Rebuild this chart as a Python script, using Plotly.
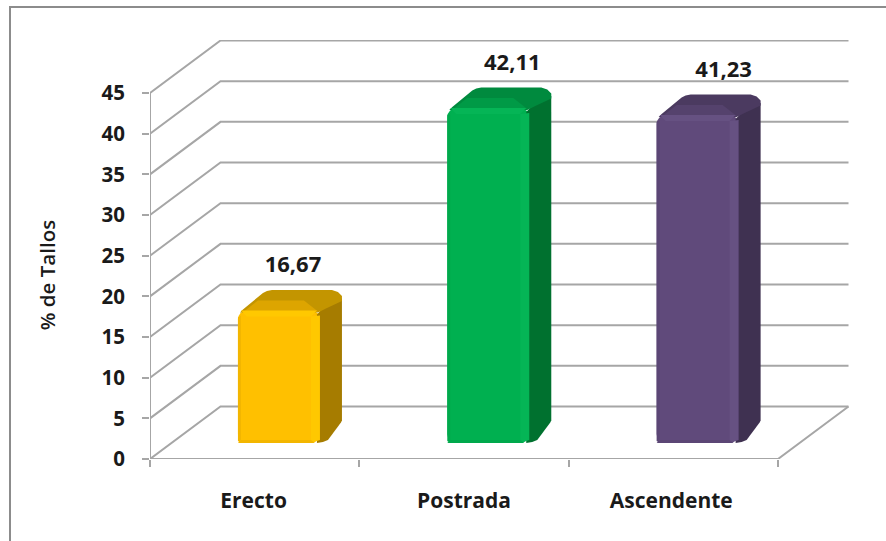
import plotly.graph_objects as go

categories = ["Erecto", "Postrada", "Ascendente"]
category_positions = [0.495, 1.5, 2.49]
values = [16.67, 42.11, 41.23]
value_labels = ["16,67", "42,11", "41,23"]
label_shift_px = [14, 24, 26]
y_ticks = [0, 5, 10, 15, 20, 25, 30, 35, 40, 45]
front_colors = ["#FFC000", "#00B050", "#604A7B"]
bright_colors = ["#FFC800", "#05B556", "#665182"]
shade_colors = ["#F3B600", "#00A94C", "#5B4675"]
bevel_colors = ["#DDA500", "#009A46", "#55426D"]
top_colors = ["#C39500", "#008A3E", "#4B3A60"]
side_colors = ["#A67C00", "#00712F", "#3F3151"]

# geometry in pixels of the target canvas, converted to axis units
W, H = 886, 541
L, R, T, B = 150, 35, 40, 82
PX_X = 628 / 3
PX_Y = 366 / 45
x_max = (W - L - R) / PX_X
y_max = (H - T - B) / PX_Y
ux = lambda p: p / PX_X
uy = lambda p: p / PX_Y

wall_dx, wall_dy = ux(70.5), uy(52.5)
bar_center = 0.616
bar_w = ux(82)
bar_dx, bar_dy = ux(22), uy(19.5)
base = uy(16)
scale = 0.978

GRID = "#A6A6A6"
FONT = "Open Sans, sans-serif"
TXT = "#1A1A1A"
TICK_STYLE = dict(family=FONT, size=20.5, color=TXT, weight=700)
CAT_STYLE = dict(family=FONT, size=21, color=TXT, weight=700)
LABEL_STYLE = dict(family=FONT, size=22, color=TXT, weight=700)

fig = go.Figure()

# wall and floor lines
gx, gy = [], []
for v in y_ticks:
    gx += [0, wall_dx, 3 + wall_dx, None]
    gy += [v, v + wall_dy, v + wall_dy, None]
gx += [0, 0, None, 0, 3, 3 + wall_dx]
gy += [0, 45, None, 0, 0, wall_dy]
fig.add_trace(go.Scatter(x=gx, y=gy, mode="lines", line=dict(color=GRID, width=2),
                         hoverinfo="skip", showlegend=False, cliponaxis=False))


def poly(xs, ys, color):
    fig.add_trace(go.Scatter(x=xs + xs[:1], y=ys + ys[:1], mode="lines", fill="toself",
                             fillcolor=color, line=dict(width=0), hoverinfo="skip",
                             showlegend=False, xaxis="x2", yaxis="y2"))


centers = [i + bar_center for i in range(len(values))]
tops = [base + v * scale for v in values]

# front faces through the library's bar scale
fig.add_trace(go.Bar(x=centers, y=[v * scale for v in values], base=base, width=bar_w,
                     marker=dict(color=front_colors, line=dict(width=0), cornerradius=9),
                     hoverinfo="skip", showlegend=False, xaxis="x2", yaxis="y2"))

for c, t, fc, br, sh, bv, tc, sc in zip(centers, tops, front_colors, bright_colors,
                                        shade_colors, bevel_colors, top_colors, side_colors):
    x0, x1 = c - bar_w / 2, c + bar_w / 2
    # side face
    poly([x1 - ux(3), x1 + bar_dx - ux(5), x1 + bar_dx, x1 + bar_dx, x1 + bar_dx - ux(1),
          x1 + ux(8), x1 + ux(3), x1 - ux(3)],
         [t - uy(4), t + bar_dy - uy(2), t + bar_dy - uy(8), base + bar_dy + uy(3),
          base + bar_dy + uy(1), base + uy(3), base + uy(1), base],
         sc)
    # top face
    poly([x0, x0 + ux(2), x0 + ux(5), x0 + bar_dx + ux(3), x0 + bar_dx + ux(7), x0 + bar_dx + ux(12),
          x1 + bar_dx - ux(10), x1 + bar_dx - ux(4), x1 + bar_dx, x1 + bar_dx, x1 + ux(6), x1 - ux(2), x0 + ux(2)],
         [t - uy(7), t - uy(2), t + uy(1), t + bar_dy - uy(2), t + bar_dy, t + bar_dy + uy(1),
          t + bar_dy + uy(1), t + bar_dy - uy(1), t + bar_dy - uy(5), t + bar_dy - uy(10), t + uy(2), t - uy(2), t - uy(2)],
         tc)
    # lighter band along the front of the top face
    poly([x0 + ux(6), x0 + ux(20), x1 - ux(16), x1 - ux(2)],
         [t - uy(1), t + uy(10), t + uy(10), t - uy(1)], bv)
    # bevel strips on the front face
    poly([x1 - ux(9), x1, x1, x1 - ux(9)], [base, base + uy(3), t - uy(5), t - uy(6)], br)
    poly([x0 + ux(3), x1 - ux(3), x1 - ux(9), x0 + ux(9)], [t, t, t - uy(6), t - uy(6)], br)
    poly([x0, x0 + ux(3), x0 + ux(3), x0], [base + uy(2), base, t - uy(5), t - uy(7)], sh)
    poly([x0 + ux(3), x1 - ux(9), x1 - ux(5), x0], [base + uy(3), base + uy(3), base, base], sh)

# value labels
fig.add_trace(go.Scatter(x=[c + ux(d) for c, d in zip(centers, label_shift_px)],
                         y=[t + uy(44) for t in tops],
                         mode="text", text=value_labels, textfont=LABEL_STYLE,
                         hoverinfo="skip", showlegend=False, xaxis="x2", yaxis="y2",
                         cliponaxis=False))

fig.update_layout(
    width=W, height=H, margin=dict(l=L, r=R, t=T, b=B, autoexpand=False),
    paper_bgcolor="white", plot_bgcolor="white", barmode="overlay",
    xaxis=dict(range=[0, x_max], showgrid=False, zeroline=False, showline=False,
               tickmode="array", tickvals=category_positions,
               ticktext=categories, ticks="outside", ticklen=23, tickcolor="rgba(0,0,0,0)",
               tickfont=CAT_STYLE,
               minor=dict(tickmode="array", tickvals=[0, 1, 2, 3], ticks="outside",
                          ticklen=7, tickwidth=2, tickcolor=GRID, showgrid=False)),
    yaxis=dict(range=[0, y_max], showgrid=False, zeroline=False, showline=False,
               tickmode="array", tickvals=y_ticks, ticktext=[str(v) for v in y_ticks],
               ticks="outside", ticklen=7, tickwidth=2, tickcolor=GRID, ticklabelstandoff=13,
               tickfont=TICK_STYLE),
    xaxis2=dict(range=[0, x_max], overlaying="x", visible=False),
    yaxis2=dict(range=[0, y_max], overlaying="y", visible=False),
    annotations=[dict(text="% de Tallos", xref="paper", yref="y", x=(47 - L) / (W - L - R),
                      y=22.6, showarrow=False, textangle=-90, xanchor="center", yanchor="middle",
                      font=dict(family=FONT, size=20.5, color=TXT, weight=600))],
    shapes=[dict(type="rect", xref="paper", yref="paper", layer="below",
                 x0=(10 - L) / (W - L - R), x1=(W + 20 - L) / (W - L - R),
                 y0=-(B + 20) / (H - T - B), y1=1 + (T - 7) / (H - T - B),
                 line=dict(color="#8C8C8C", width=2), fillcolor="white")],
    showlegend=False,
)
fig.write_html("out.html", config=dict(displayModeBar=False),
               post_script="document.body.style.margin='0';")
